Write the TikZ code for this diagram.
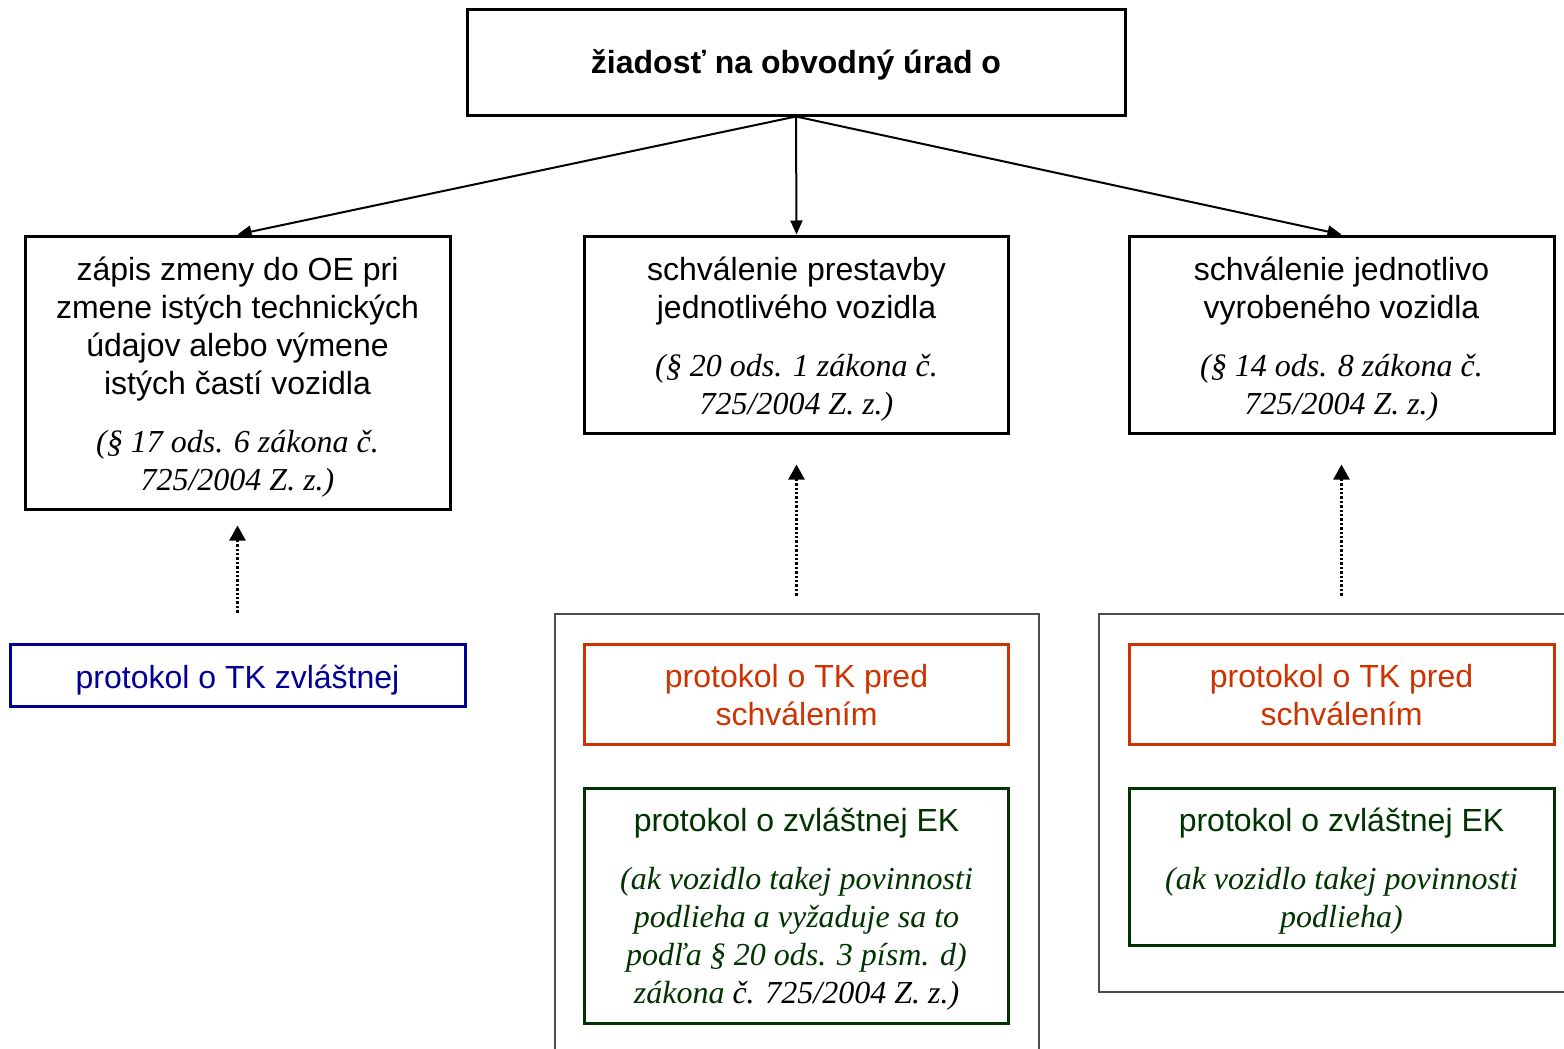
\documentclass[tikz,border=0pt]{standalone}
\usepackage{fontspec}
\setmainfont{Liberation Serif}
\setsansfont{Liberation Sans}
\usepackage{tikz}
\usetikzlibrary{arrows.meta}
\definecolor{tkblue}{RGB}{0,0,153}
\definecolor{tkred}{RGB}{204,51,0}
\definecolor{ekgreen}{RGB}{0,51,0}
\newcommand{\lawtext}{\rmfamily\itshape}
\tikzset{
  box/.style={draw, line width=1.5pt, inner sep=0pt},
  boxtext/.style={inner sep=0pt, align=center,
    font=\sffamily\fontsize{16}{19}\selectfont},
  frame/.style={draw=black!70, line width=0.6pt},
  link/.style={line width=1pt, -{Triangle[length=7pt,width=6pt]}},
  dotlink/.style={line width=1.2pt, dash pattern=on 1.2pt off 1pt,
    -{Triangle[length=7.5pt,width=8pt]}}
}

\begin{document}
\begin{tikzpicture}[x=0.5pt, y=-0.5pt]

\useasboundingbox (0,0) rectangle (1564,1049);
\clip (0,0) rectangle (1564,1049);

% outer frames round the protocols
\draw[frame] (555,614) rectangle (1039,1080);
\draw[frame] (1099,614) rectangle (1600,992);

% boxes
\node[box, minimum width=329pt, minimum height=53pt] (req) at (796,62) {};
\node[box, minimum width=212.5pt, minimum height=136.5pt] (oe) at (237.5,372.5) {};
\node[box, minimum width=212pt, minimum height=98.5pt] (prest) at (796.5,334.5) {};
\node[box, minimum width=212.5pt, minimum height=98.5pt] (jedn) at (1341.5,334.5) {};
\node[box, draw=tkblue, minimum width=227.5pt, minimum height=31pt] (tkz) at (237.5,675) {};
\node[box, draw=tkred, minimum width=212pt, minimum height=50pt] (tkp1) at (796.5,694) {};
\node[box, draw=ekgreen, minimum width=212pt, minimum height=117.5pt] (ek1) at (796.5,905.5) {};
\node[box, draw=tkred, minimum width=212.5pt, minimum height=50pt] (tkp2) at (1341.5,694) {};
\node[box, draw=ekgreen, minimum width=212.5pt, minimum height=78.5pt] (ek2) at (1341.5,866.5) {};

% texts
\node[boxtext, font=\sffamily\bfseries\fontsize{16}{19}\selectfont]
  (req-t) at ([yshift=-1.5pt]req) {žiadosť na obvodný úrad o};
\node[boxtext] (oe-t) at ([yshift=-2.5pt]oe)
  {zápis zmeny do OE pri\\ zmene istých technických\\ údajov alebo výmene\\ istých častí vozidla\\[10pt]
   \lawtext (§ 17 ods. 6 zákona č.\\ \lawtext 725/2004 Z. z.)};
\node[boxtext] (prest-t) at ([yshift=-2.5pt]prest)
  {schválenie prestavby\\ jednotlivého vozidla\\[10pt]
   \lawtext (§ 20 ods. 1 zákona č.\\ \lawtext 725/2004 Z. z.)};
\node[boxtext] (jedn-t) at ([yshift=-2.5pt]jedn)
  {schválenie jednotlivo\\ vyrobeného vozidla\\[10pt]
   \lawtext (§ 14 ods. 8 zákona č.\\ \lawtext 725/2004 Z. z.)};
\node[boxtext, text=tkblue] (tkz-t) at ([yshift=-2.5pt]tkz) {protokol o TK zvláštnej};
\node[boxtext, text=tkred] (tkp1-t) at ([yshift=-0.5pt]tkp1) {protokol o TK pred\\ schválením};
\node[boxtext, text=ekgreen] (ek1-t) at ([yshift=-2pt]ek1)
  {protokol o zvláštnej EK\\[10pt]
   \lawtext (ak vozidlo takej povinnosti\\ \lawtext podlieha a vyžaduje sa to\\
   \lawtext podľa § 20 ods. 3 písm. d)\\ \lawtext zákona {\color{black}č. 725/2004 Z. z.)}};
\node[boxtext, text=tkred] (tkp2-t) at ([yshift=-0.5pt]tkp2) {protokol o TK pred\\ schválením};
\node[boxtext, text=ekgreen] (ek2-t) at ([yshift=-2.5pt]ek2)
  {protokol o zvláštnej EK\\[10pt]
   \lawtext (ak vozidlo takej povinnosti\\ \lawtext podlieha)};

% connectors
\draw[link] (req.south) -- (oe.north);
\draw[link] (req.south) -- (prest.north);
\draw[link] (req.south) -- (jedn.north);

\draw[dotlink] ([yshift=15pt]tkz.north) -- ([yshift=-7.5pt]oe.south);
\draw[dotlink] ([yshift=23.5pt]tkp1.north) -- ([yshift=-15pt]prest.south);
\draw[dotlink] ([yshift=23.5pt]tkp2.north) -- ([yshift=-15pt]jedn.south);

\end{tikzpicture}
\end{document}
